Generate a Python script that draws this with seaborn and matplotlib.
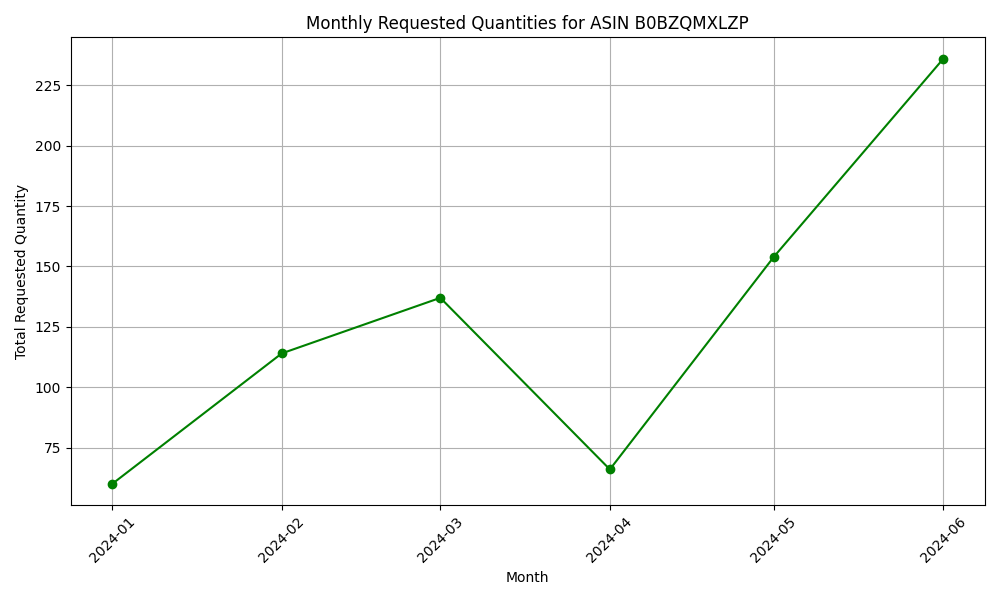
import matplotlib
matplotlib.use("Agg")
import matplotlib.pyplot as plt
import matplotlib.dates as mdates
import seaborn as sns
import pandas as pd

months = ["2024-01", "2024-02", "2024-03", "2024-04", "2024-05", "2024-06"]
quantities = [60, 114, 137, 66, 154, 236]

df = pd.DataFrame({"Month": pd.to_datetime(months), "Quantity": quantities})

fig, ax = plt.subplots(figsize=(10, 6), dpi=100)
sns.lineplot(data=df, x="Month", y="Quantity", ax=ax, color="green",
             marker="o", markersize=6, markeredgecolor="green",
             markeredgewidth=1.0, linewidth=1.5)
ax.xaxis.set_major_locator(mdates.MonthLocator())
ax.xaxis.set_major_formatter(mdates.DateFormatter("%Y-%m"))
ax.set_title("Monthly Requested Quantities for ASIN B0BZQMXLZP")
ax.set_xlabel("Month")
ax.set_ylabel("Total Requested Quantity")
ax.grid(True)
plt.setp(ax.get_xticklabels(), rotation=45)
plt.tight_layout()
fig.savefig("out.png", dpi=100)
